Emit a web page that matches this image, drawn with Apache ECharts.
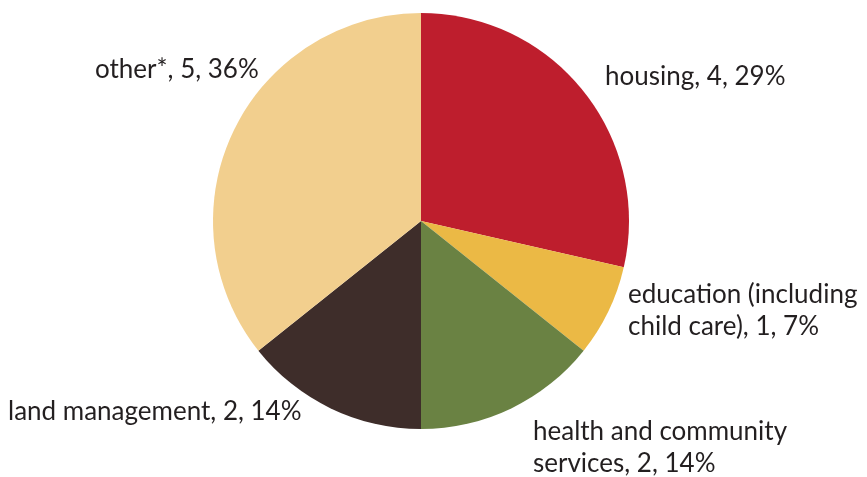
<!DOCTYPE html>
<html>
<head>
<meta charset="utf-8">
<script src="https://cdn.jsdelivr.net/npm/echarts@6/dist/echarts.min.js"></script>
<style>html,body{margin:0;padding:0;background:#fff;}#c{width:867px;height:477px;}</style>
</head>
<body>
<div id="c"></div>
<script>
const categories = ['housing', 'education (including\nchild care)', 'health and community\nservices', 'land management', 'other*'];
const values = [4, 1, 2, 2, 5];
const percents = ['29%', '7%', '14%', '14%', '36%'];
const colors = ['#BE1E2D', '#EBB945', '#6A8243', '#3E2D2A', '#F2CF8E'];

const labelAnchors = [[605, 77], [628, 311], [533, 448], [8, 412], [95, 70]];

const chart = echarts.init(document.getElementById('c'), null, {renderer: 'canvas'});
chart.setOption({
  animation: false,
  series: [{
    type: 'pie',
    center: [421, 221],
    radius: [0, 208],
    startAngle: 90,
    clockwise: true,
    avoidLabelOverlap: false,
    data: categories.map((n, i) => ({name: n, value: values[i], itemStyle: {color: colors[i]}})),
    label: {
      show: true,
      position: 'outside',
      formatter: p => p.name + ', ' + p.value + ', ' + percents[p.dataIndex],
      fontFamily: 'Lato',
      fontSize: 26,
      lineHeight: 32,
      color: '#231F20'
    },
    labelLine: {show: false},
    labelLayout: p => ({
      x: labelAnchors[p.dataIndex][0],
      y: labelAnchors[p.dataIndex][1],
      align: 'left',
      verticalAlign: 'middle'
    }),
    emphasis: {disabled: true}
  }]
});
</script>
</body>
</html>
